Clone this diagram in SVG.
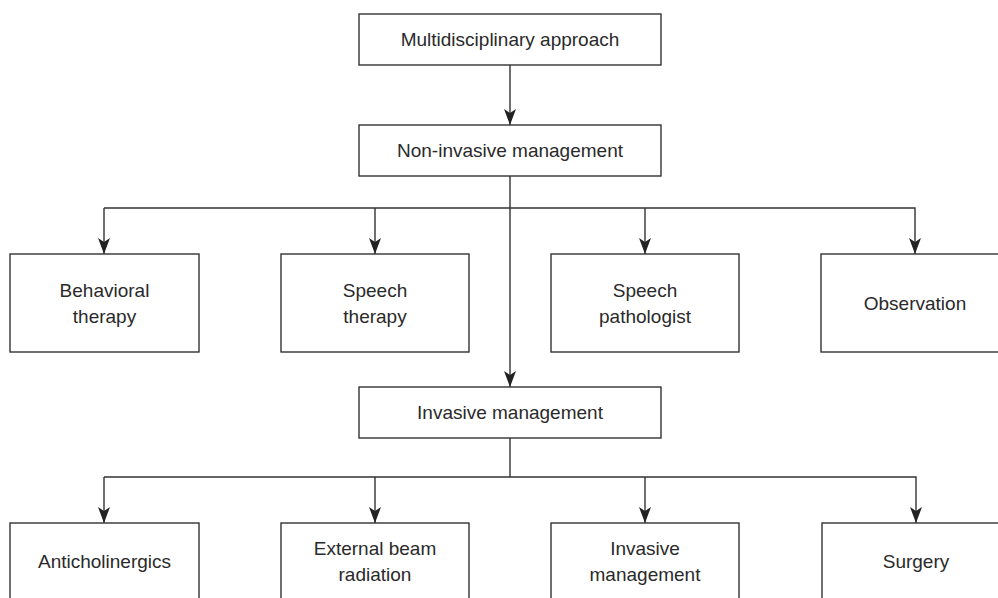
<svg xmlns="http://www.w3.org/2000/svg" width="998" height="598" viewBox="0 0 998 598">
<defs>
<style>
.box{fill:#fff;stroke:#333;stroke-width:1.4}
.t{font-family:"Liberation Sans",Arial,sans-serif;font-size:19px;fill:#2a2a2a;text-anchor:middle}
.c{fill:none;stroke:#333;stroke-width:1.4}
</style>
<marker id="ah" viewBox="0 0 12 16" refX="6" refY="16" markerWidth="12" markerHeight="16" markerUnits="userSpaceOnUse" orient="0">
<path d="M0,0 L6,4 L12,0 L6,16 Z" fill="#222"/>
</marker>
</defs>
<rect width="998" height="598" fill="#fff"/>
<g id="connectors">
<line class="c" x1="510" y1="65" x2="510" y2="125" marker-end="url(#ah)"/>
<line class="c" x1="510" y1="176" x2="510" y2="387" marker-end="url(#ah)"/>
<polyline class="c" points="104,208 915,208 915,254" marker-end="url(#ah)"/>
<line class="c" x1="104" y1="208" x2="104" y2="254" marker-end="url(#ah)"/>
<line class="c" x1="375" y1="208" x2="375" y2="254" marker-end="url(#ah)"/>
<line class="c" x1="645" y1="208" x2="645" y2="254" marker-end="url(#ah)"/>
<line class="c" x1="510" y1="438" x2="510" y2="477"/>
<polyline class="c" points="104,477 916,477 916,523" marker-end="url(#ah)"/>
<line class="c" x1="104" y1="477" x2="104" y2="523" marker-end="url(#ah)"/>
<line class="c" x1="375" y1="477" x2="375" y2="523" marker-end="url(#ah)"/>
<line class="c" x1="645" y1="477" x2="645" y2="523" marker-end="url(#ah)"/>
</g>
<g id="n-multi"><rect class="box" x="359" y="14" width="302" height="51"/><text class="t" x="510" y="46">Multidisciplinary approach</text></g>
<g id="n-noninv"><rect class="box" x="359" y="125" width="302" height="51"/><text class="t" x="510" y="157">Non-invasive management</text></g>
<g id="n-behav"><rect class="box" x="10" y="254" width="189" height="98"/><text class="t" x="104.5" y="297">Behavioral</text><text class="t" x="104.5" y="323">therapy</text></g>
<g id="n-speechth"><rect class="box" x="281" y="254" width="188" height="98"/><text class="t" x="375" y="297">Speech</text><text class="t" x="375" y="323">therapy</text></g>
<g id="n-speechpath"><rect class="box" x="551" y="254" width="188" height="98"/><text class="t" x="645" y="297">Speech</text><text class="t" x="645" y="323">pathologist</text></g>
<g id="n-obs"><rect class="box" x="821" y="254" width="200" height="98"/><text class="t" x="915" y="310">Observation</text></g>
<g id="n-inv"><rect class="box" x="359" y="387" width="302" height="51"/><text class="t" x="510" y="419">Invasive management</text></g>
<g id="n-antichol"><rect class="box" x="10" y="523" width="189" height="100"/><text class="t" x="104.5" y="568">Anticholinergics</text></g>
<g id="n-ebr"><rect class="box" x="281" y="523" width="188" height="100"/><text class="t" x="375" y="555">External beam</text><text class="t" x="375" y="581">radiation</text></g>
<g id="n-invmgmt"><rect class="box" x="551" y="523" width="188" height="100"/><text class="t" x="645" y="555">Invasive</text><text class="t" x="645" y="581">management</text></g>
<g id="n-surgery"><rect class="box" x="822" y="523" width="200" height="100"/><text class="t" x="916" y="568">Surgery</text></g>
</svg>
